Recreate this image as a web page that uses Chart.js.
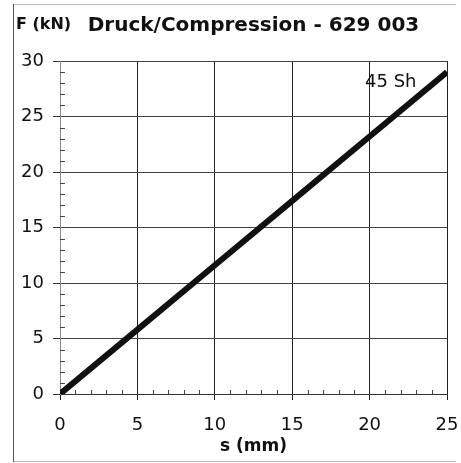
<!DOCTYPE html>
<html>
<head>
<meta charset="utf-8">
<script src="https://cdn.jsdelivr.net/npm/chart.js@4"></script>
<style>
html,body{margin:0;padding:0;background:#fff;}
#wrap{width:461px;height:463px;position:relative;}
</style>
</head>
<body>
<div id="wrap"><canvas id="c" width="461" height="463"></canvas></div>
<script>
const chartTitle = "Druck/Compression - 629 003";
const yAxisLabel = "F (kN)";
const xAxisLabel = "s (mm)";
const seriesLabel = "45 Sh";
const sValues = [0, 5, 10, 15, 20, 25];
const forceValues = [0, 5.8, 11.6, 17.4, 23.2, 29.0];
const xTicks = [0, 5, 10, 15, 20, 25];
const yTicks = [0, 5, 10, 15, 20, 25, 30];

const FONT = "'DejaVu Sans', sans-serif";

const decor = {
  id: 'decor',
  beforeDraw(chart) {
    const ctx = chart.ctx;
    ctx.save();
    ctx.fillStyle = '#fff';
    ctx.fillRect(0, 0, chart.width, chart.height);
    ctx.lineWidth = 1;
    ctx.strokeStyle = '#bbb';
    ctx.beginPath();
    ctx.moveTo(13, 4.5); ctx.lineTo(456, 4.5);
    ctx.moveTo(13, 461.5); ctx.lineTo(456, 461.5);
    ctx.stroke();
    ctx.strokeStyle = '#555';
    ctx.beginPath();
    ctx.moveTo(13.5, 4); ctx.lineTo(13.5, 462);
    ctx.stroke();
    ctx.restore();
  },
  afterDatasetsDraw(chart) {
    const ctx = chart.ctx;
    const xs = chart.scales.x, ys = chart.scales.y;
    const a = chart.chartArea;
    ctx.save();
    ctx.strokeStyle = '#444';
    ctx.lineWidth = 1;
    ctx.beginPath();
    for (let v = xs.min; v <= xs.max; v++) {
      if (v % 5 === 0) continue;
      const px = Math.round(xs.getPixelForValue(v)) + 0.5;
      ctx.moveTo(px, a.bottom); ctx.lineTo(px, a.bottom - 4);
    }
    for (let v = ys.min; v <= ys.max; v++) {
      if (v % 5 === 0) continue;
      const py = Math.round(ys.getPixelForValue(v)) + 0.5;
      ctx.moveTo(a.left, py); ctx.lineTo(a.left + 5, py);
    }
    ctx.stroke();
    ctx.fillStyle = '#111';
    ctx.font = "bold 16px " + FONT;
    ctx.textBaseline = 'alphabetic';
    ctx.textAlign = 'left';
    ctx.fillText(yAxisLabel, 16, 29);
    ctx.font = "18px " + FONT;
    const last = sValues.length - 1;
    const lx = xs.getPixelForValue(sValues[last]) - 82;
    const ly = ys.getPixelForValue(forceValues[last]) + 15;
    ctx.fillText(seriesLabel, lx, ly);
    ctx.restore();
  }
};

new Chart(document.getElementById('c'), {
  type: 'scatter',
  data: {
    datasets: [{
      label: seriesLabel,
      data: sValues.map((s, i) => ({x: s, y: forceValues[i]})),
      showLine: true,
      borderColor: '#111',
      backgroundColor: '#111',
      borderWidth: 6,
      pointRadius: 0,
      tension: 0
    }]
  },
  options: {
    responsive: false,
    animation: false,
    devicePixelRatio: 1,
    layout: { padding: { left: 0, right: 14, top: 0, bottom: 0 } },
    plugins: {
      legend: { display: false },
      tooltip: { enabled: false },
      title: {
        display: true,
        text: chartTitle,
        fullSize: false,
        color: '#111',
        font: { family: FONT, size: 20, weight: 'bold' },
        padding: { top: 14, bottom: 23 }
      }
    },
    scales: {
      x: {
        type: 'linear',
        min: 0, max: 25,
        afterBuildTicks(scale) { scale.ticks = xTicks.map(v => ({value: v})); },
        afterFit(scale) { scale.height = 69; scale.paddingLeft = 0; scale.paddingRight = 0; },
        ticks: { color: '#111', font: { family: FONT, size: 18 }, padding: 15 },
        grid: { color: '#222', lineWidth: 1, tickLength: 6, tickColor: '#222' },
        border: { display: true, color: '#333', width: 1 },
        title: {
          display: true, text: xAxisLabel, color: '#111',
          font: { family: FONT, size: 17, weight: 'bold' },
          padding: { top: 0, bottom: 6 }
        }
      },
      y: {
        type: 'linear',
        min: 0, max: 30,
        afterBuildTicks(scale) { scale.ticks = yTicks.map(v => ({value: v})); },
        afterFit(scale) { scale.width = 60; scale.paddingTop = 0; scale.paddingBottom = 0; },
        ticks: { color: '#111', font: { family: FONT, size: 18 }, padding: 9 },
        grid: { color: '#444', lineWidth: 1, tickLength: 7, tickColor: '#333' },
        border: { display: true, color: '#888', width: 1 }
      }
    }
  },
  plugins: [decor]
});
</script>
</body>
</html>
